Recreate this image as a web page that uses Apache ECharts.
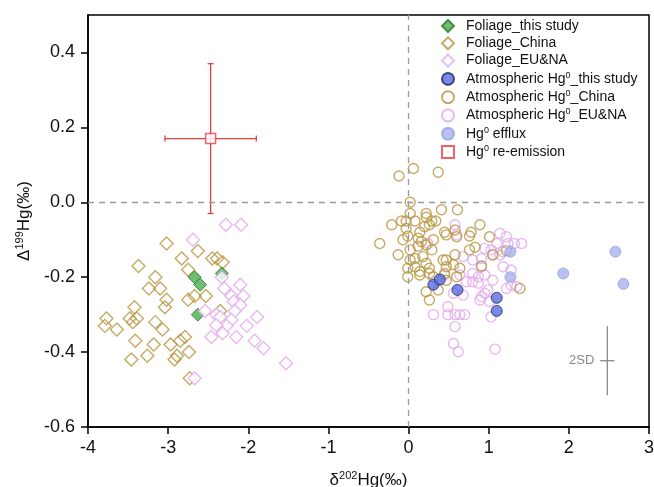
<!DOCTYPE html>
<html>
<head>
<meta charset="utf-8">
<title>Hg isotopes</title>
<script src="https://cdn.jsdelivr.net/npm/echarts@6/dist/echarts.min.js"></script>
<style>
  html, body { margin: 0; padding: 0; background: #fff; }
  #main { width: 654px; height: 487px; }
</style>
</head>
<body>
<div id="main"></div>
<script>
// tick labels
var xTicks = [-4, -3, -2, -1, 0, 1, 2, 3];
var yTicks = [-0.6, -0.4, -0.2, 0.0, 0.2, 0.4];

// [δ202Hg, Δ199Hg]
var foliageStudy = [[-2.67, -0.20], [-2.60, -0.22], [-2.63, -0.30], [-2.33, -0.19]];

var foliageChina = [
    [-3.02, -0.11], [-2.63, -0.13], [-2.83, -0.15], [-3.37, -0.17], [-2.75, -0.18],
    [-2.45, -0.15], [-2.39, -0.15], [-2.32, -0.16], [-3.16, -0.20], [-3.24, -0.23],
    [-3.10, -0.23], [-3.02, -0.26], [-3.04, -0.28], [-2.75, -0.26], [-2.67, -0.25],
    [-2.53, -0.25], [-3.42, -0.28], [-3.77, -0.31], [-3.79, -0.33], [-3.64, -0.34],
    [-3.48, -0.31], [-3.39, -0.31], [-3.44, -0.32], [-3.16, -0.32], [-3.07, -0.34],
    [-2.35, -0.29], [-3.41, -0.37], [-3.18, -0.38], [-2.97, -0.38], [-2.85, -0.37],
    [-2.79, -0.36], [-3.46, -0.42], [-3.26, -0.41], [-2.92, -0.42], [-2.89, -0.41],
    [-2.74, -0.40], [-2.73, -0.47]
];

var foliageEUNA = [
    [-2.28, -0.06], [-2.09, -0.06], [-2.69, -0.10], [-2.33, -0.20], [-2.30, -0.23],
    [-2.10, -0.22], [-2.21, -0.25], [-2.06, -0.25], [-2.18, -0.265], [-2.54, -0.29],
    [-2.40, -0.30], [-2.35, -0.306], [-2.10, -0.274], [-2.17, -0.29], [-2.21, -0.314],
    [-2.27, -0.33], [-2.40, -0.328], [-1.89, -0.306], [-2.02, -0.33], [-2.46, -0.36],
    [-2.32, -0.35], [-2.15, -0.36], [-1.92, -0.37], [-1.81, -0.39], [-1.53, -0.43],
    [-2.67, -0.47]
];

var atmStudy = [[0.31, -0.22], [0.39, -0.206], [0.61, -0.234], [1.10, -0.255], [1.10, -0.29]];

var atmChina = [
    [-0.12, 0.07], [0.06, 0.09], [0.37, 0.08], [0.02, 0.00], [0.02, -0.03],
    [0.22, -0.03], [0.41, -0.02], [0.61, -0.02], [-0.21, -0.06], [-0.09, -0.05],
    [-0.03, -0.05], [0.08, -0.05], [0.22, -0.04], [0.29, -0.05], [0.34, -0.05],
    [-0.36, -0.11], [-0.03, -0.07], [-0.01, -0.09], [0.14, -0.08], [0.20, -0.065],
    [0.26, -0.06], [0.45, -0.08], [0.58, -0.074], [0.76, -0.09], [0.78, -0.08],
    [0.89, -0.06], [-0.07, -0.10], [0.12, -0.096], [0.16, -0.105], [0.31, -0.10],
    [0.47, -0.087], [0.60, -0.092], [1.01, -0.092], [-0.13, -0.14], [0.02, -0.127],
    [0.12, -0.117], [0.22, -0.114], [0.29, -0.127], [0.02, -0.154], [0.08, -0.15],
    [0.18, -0.145], [0.22, -0.163], [0.47, -0.154], [0.58, -0.14], [0.76, -0.127],
    [0.83, -0.12], [1.05, -0.14], [1.22, -0.129], [-0.01, -0.176], [0.08, -0.172],
    [0.14, -0.185], [0.26, -0.176], [0.43, -0.154], [0.47, -0.172], [0.56, -0.167],
    [0.64, -0.176], [0.91, -0.17], [-0.01, -0.199], [0.14, -0.194], [0.26, -0.19],
    [0.31, -0.199], [0.45, -0.19], [0.60, -0.199], [0.47, -0.208], [0.22, -0.239],
    [0.26, -0.261], [0.37, -0.234], [1.39, -0.23]
];

var atmEUNA = [
    [0.58, -0.06], [0.60, -0.087], [1.14, -0.083], [1.22, -0.092], [1.10, -0.11],
    [1.24, -0.11], [1.32, -0.11], [1.41, -0.11], [0.95, -0.123], [1.03, -0.127],
    [1.18, -0.132], [1.14, -0.141], [0.68, -0.145], [0.80, -0.154], [0.91, -0.15],
    [1.05, -0.141], [1.18, -0.172], [1.28, -0.181], [0.91, -0.172], [0.45, -0.194],
    [0.64, -0.194], [0.80, -0.19], [0.87, -0.199], [0.95, -0.194], [1.05, -0.208],
    [0.80, -0.212], [0.72, -0.212], [0.87, -0.216], [1.28, -0.221], [1.22, -0.23],
    [1.35, -0.225], [0.99, -0.234], [0.95, -0.243], [0.91, -0.252], [0.68, -0.248],
    [0.56, -0.243], [0.89, -0.261], [1.01, -0.265], [0.49, -0.279], [0.31, -0.30],
    [0.49, -0.30], [0.58, -0.30], [0.64, -0.30], [0.70, -0.30], [1.03, -0.306],
    [0.58, -0.332], [0.56, -0.377], [0.62, -0.399], [1.08, -0.392], [0.24, -0.11]
];

var efflux = [[1.27, -0.132], [1.27, -0.20], [1.93, -0.19], [2.58, -0.132], [2.68, -0.218]];

// [x, y, x error, y error]
var reEmission = [[-2.47, 0.17, 0.57, 0.20]];
var sd2 = [[2.48, -0.423, 0.09, 0.092]];

var legendNames = [
    'Foliage_this study', 'Foliage_China', 'Foliage_EU&NA',
    'Atmospheric Hg0_this study', 'Atmospheric Hg0_China', 'Atmospheric Hg0_EU&NA',
    'Hg0 efflux', 'Hg0 re-emission'
];

var FONT = '"Liberation Sans", Arial, sans-serif';
var GOLD = '#b8953e';
var PINK = '#e4a6ee';
var RED = '#e8403a';

function supName(n) {
    var i = n.indexOf('Hg0');
    if (i < 0) return '{p| }{t|' + n + '}';
    var a = n.substring(0, i) + 'Hg';
    var b = n.substring(i + 3);
    var s = '{p| }{t|' + a + '}{s|0}';
    if (b) s += '{t|' + b + '}';
    return s;
}

function errBar(color, capLen, label) {
    return function (params, api) {
        var x = api.value(0), y = api.value(1), ex = api.value(2), ey = api.value(3);
        var l = api.coord([x - ex, y]), r = api.coord([x + ex, y]);
        var t = api.coord([x, y + ey]), b = api.coord([x, y - ey]);
        var c = api.coord([x, y]);
        var st = { stroke: color, lineWidth: 1.3 };
        var kids = [
            { type: 'line', shape: { x1: l[0], y1: l[1], x2: r[0], y2: r[1] }, style: st },
            { type: 'line', shape: { x1: t[0], y1: t[1], x2: b[0], y2: b[1] }, style: st }
        ];
        if (capLen) {
            kids.push({ type: 'line', shape: { x1: l[0], y1: l[1] - capLen, x2: l[0], y2: l[1] + capLen }, style: st });
            kids.push({ type: 'line', shape: { x1: r[0], y1: r[1] - capLen, x2: r[0], y2: r[1] + capLen }, style: st });
            kids.push({ type: 'line', shape: { x1: t[0] - capLen, y1: t[1], x2: t[0] + capLen, y2: t[1] }, style: st });
            kids.push({ type: 'line', shape: { x1: b[0] - capLen, y1: b[1], x2: b[0] + capLen, y2: b[1] }, style: st });
        }
        if (label) {
            kids.push({ type: 'text', x: c[0] - 13, y: c[1], style: {
                text: label, fill: '#8a8a8a', font: '13px ' + FONT, align: 'right', verticalAlign: 'middle' } });
        }
        return { type: 'group', children: kids };
    };
}

var titleRich = {
    g: { fontSize: 17, fontFamily: FONT, color: '#111', lineHeight: 20 },
    t: { fontSize: 17, fontFamily: FONT, color: '#111', lineHeight: 20 },
    s: { fontSize: 11, fontFamily: FONT, color: '#111', lineHeight: 12, verticalAlign: 'top' }
};

var chart = echarts.init(document.getElementById('main'));

var option = {
    backgroundColor: '#fff',
    animation: false,
    grid: {
        left: 88, right: 5, top: 15, bottom: 60, outerBoundsMode: 'none',
        show: true, borderColor: '#000', borderWidth: 1.5
    },
    legend: {
        data: legendNames,
        orient: 'vertical',
        left: 436,
        top: 14,
        itemWidth: 12,
        itemHeight: 12,
        itemGap: 3.3,
        selectedMode: false,
        formatter: supName,
        textStyle: {
            fontFamily: FONT,
            rich: {
                p: { width: 7, fontSize: 14, lineHeight: 16 },
                t: { fontSize: 14, fontFamily: FONT, color: '#111', lineHeight: 16 },
                s: { fontSize: 9, fontFamily: FONT, color: '#111', lineHeight: 10, verticalAlign: 'top' }
            }
        }
    },
    xAxis: {
        type: 'value', min: -4, max: 3, interval: 1,
        name: '{g|δ}{s|202}{t|Hg(‰)}',
        nameLocation: 'middle', nameGap: 43,
        nameTextStyle: { rich: titleRich },
        axisLine: { show: true, onZero: false, lineStyle: { color: '#000', width: 1.5 } },
        axisTick: { show: true, length: 7, customValues: xTicks, lineStyle: { color: '#000', width: 1.5 } },
        axisLabel: { customValues: xTicks, fontSize: 18, fontFamily: FONT, color: '#111', margin: 12 },
        splitLine: { show: false }
    },
    yAxis: {
        type: 'value', min: -0.6, max: 0.5, interval: 0.2,
        name: '{g|Δ}{s|199}{t|Hg(‰)}',
        nameLocation: 'middle', nameGap: 54,
        nameTextStyle: { rich: titleRich },
        axisLine: { show: true, onZero: false, lineStyle: { color: '#000', width: 1.5 } },
        axisTick: { show: true, length: 7, customValues: yTicks, lineStyle: { color: '#000', width: 1.5 } },
        axisLabel: {
            customValues: yTicks, fontSize: 18, fontFamily: FONT, color: '#111', margin: 13,
            formatter: function (v) { return v.toFixed(1); }
        },
        splitLine: { show: false }
    },
    series: [
        {
            name: 'Foliage_China', type: 'scatter', data: foliageChina,
            symbol: 'diamond', symbolSize: 13,
            itemStyle: { color: 'rgba(255,255,255,0)', borderColor: GOLD, borderWidth: 1.4 },
            markLine: {
                silent: true, symbol: 'none', label: { show: false },
                lineStyle: { color: '#9a9a9a', type: [6, 5], width: 1.3 },
                data: [{ yAxis: 0 }, { xAxis: 0 }]
            }
        },
        {
            name: 'Foliage_this study', type: 'scatter', data: foliageStudy,
            symbol: 'diamond', symbolSize: 13,
            itemStyle: { color: '#4aae4c', borderColor: '#2c7a30', borderWidth: 1 }
        },
        {
            name: 'Foliage_EU&NA', type: 'scatter', data: foliageEUNA,
            symbol: 'diamond', symbolSize: 13,
            itemStyle: { color: '#fff', borderColor: PINK, borderWidth: 1.4 }
        },
        {
            name: 'Atmospheric Hg0_EU&NA', type: 'scatter', data: atmEUNA,
            symbol: 'circle', symbolSize: 10,
            itemStyle: { color: 'rgba(255,255,255,0)', borderColor: PINK, borderWidth: 1.4 }
        },
        {
            name: 'Atmospheric Hg0_China', type: 'scatter', data: atmChina,
            symbol: 'circle', symbolSize: 10,
            itemStyle: { color: 'rgba(255,255,255,0)', borderColor: GOLD, borderWidth: 1.4 }
        },
        {
            name: 'Hg0 efflux', type: 'scatter', data: efflux,
            symbol: 'circle', symbolSize: 11,
            itemStyle: { color: '#a9b2ec', borderColor: '#98a2e2', borderWidth: 1 }
        },
        {
            name: 'Atmospheric Hg0_this study', type: 'scatter', data: atmStudy,
            symbol: 'circle', symbolSize: 11,
            itemStyle: { color: '#5a6ce6', borderColor: '#22285a', borderWidth: 1 }
        },
        {
            name: 'reEmissionBars', type: 'custom', data: reEmission,
            encode: { x: 0, y: 1 }, renderItem: errBar(RED, 3, null), silent: true
        },
        {
            name: 'Hg0 re-emission', type: 'scatter',
            data: reEmission.map(function (d) { return [d[0], d[1]]; }),
            symbol: 'rect', symbolSize: 10,
            itemStyle: { color: '#fff', borderColor: RED, borderWidth: 1.5 }
        },
        {
            name: '2SD', type: 'custom', data: sd2,
            encode: { x: 0, y: 1 }, renderItem: errBar('#8a8a8a', 0, '2SD'), silent: true
        }
    ]
};

chart.setOption(option);
</script>
</body>
</html>
